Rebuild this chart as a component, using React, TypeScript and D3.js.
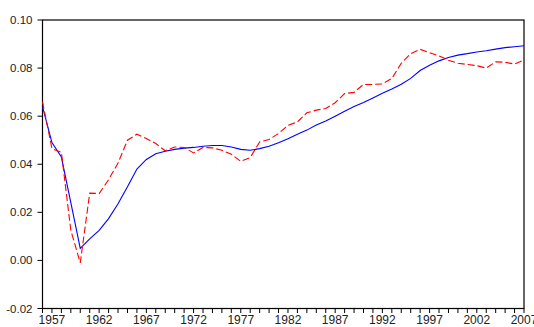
import React from "react";
import * as d3 from "d3";

const years = d3.range(1956, 2008);

const fitted = [
  0.064, 0.049, 0.043, 0.024, 0.005, 0.009, 0.0125, 0.0174, 0.0236, 0.0306,
  0.038, 0.042, 0.0444, 0.0454, 0.0462, 0.0467, 0.047, 0.0475, 0.0478, 0.0478,
  0.0472, 0.0462, 0.0458, 0.0465, 0.0475, 0.0489, 0.0506, 0.0525, 0.0542, 0.0563,
  0.058, 0.06, 0.062, 0.064, 0.0657, 0.0676, 0.0695, 0.0713, 0.0733, 0.0757,
  0.079, 0.0812, 0.083, 0.0844, 0.0854, 0.086, 0.0867, 0.0872, 0.0879, 0.0885,
  0.0889, 0.0893,
];

const actual = [
  0.066, 0.0465, 0.045, 0.0125, -0.001, 0.028, 0.0278, 0.0336, 0.0405, 0.05,
  0.0525, 0.0507, 0.0486, 0.0456, 0.0472, 0.047, 0.0447, 0.047, 0.0468, 0.0458,
  0.0442, 0.0412, 0.0428, 0.0493, 0.0503, 0.0528, 0.0562, 0.0576, 0.0614, 0.0625,
  0.0632, 0.0656, 0.0694, 0.0699, 0.0732, 0.0732, 0.0734, 0.0757, 0.082, 0.086,
  0.0878, 0.0864, 0.0851, 0.0833, 0.082, 0.0815, 0.081, 0.08, 0.0826, 0.0824,
  0.0817, 0.0833,
];

const yTicks = [-0.02, 0.0, 0.02, 0.04, 0.06, 0.08, 0.1];
const xLabelYears = [1957, 1962, 1967, 1972, 1977, 1982, 1987, 1992, 1997, 2002, 2007];

const W = 534;
const H = 327;
const left = 42.5;
const right = 524;
const top = 20;
const bottom = 308.5;

export default function App() {
  const x = d3.scaleLinear().domain([1956, 2007]).range([left, right]);
  const y = d3.scaleLinear().domain([-0.02, 0.1]).range([bottom, top]);
  const line = d3
    .line<number>()
    .x((_, i) => x(years[i]))
    .y((d) => y(d));

  const font = "'Liberation Sans', Arial, sans-serif";

  return (
    <svg
      width={W}
      height={H}
      style={{ position: "absolute", left: 0, top: 0, background: "#fff" }}
    >
      <rect x={0} y={0} width={W} height={H} fill="#fff" />
      {/* frame */}
      <rect
        x={left}
        y={top}
        width={right - left}
        height={bottom - top}
        fill="none"
        stroke="#000"
        strokeWidth={1.2}
      />
      {/* y axis ticks and labels */}
      {yTicks.map((t) => (
        <g key={t}>
          <line x1={left - 5} x2={left} y1={y(t)} y2={y(t)} stroke="#000" strokeWidth={1} />
          <text
            x={left - 10}
            y={y(t)}
            dy="0.35em"
            textAnchor="end"
            fontFamily={font}
            fontSize={11.5}
            fill="#222"
          >
            {t.toFixed(2)}
          </text>
        </g>
      ))}
      {/* x axis ticks */}
      {years.map((yr) => (
        <line
          key={yr}
          x1={x(yr)}
          x2={x(yr)}
          y1={bottom}
          y2={bottom + 4.5}
          stroke="#000"
          strokeWidth={1}
        />
      ))}
      {xLabelYears.map((yr) => (
        <text
          key={yr}
          x={x(yr)}
          y={323.5}
          textAnchor="middle"
          fontFamily={font}
          fontSize={12}
          fill="#222"
        >
          {yr}
        </text>
      ))}
      <path d={line(fitted) || ""} fill="none" stroke="#0000ff" strokeWidth={1.1} />
      <path
        d={line(actual) || ""}
        fill="none"
        stroke="#ff0000"
        strokeWidth={1.1}
        strokeDasharray="7,3"
      />
    </svg>
  );
}
